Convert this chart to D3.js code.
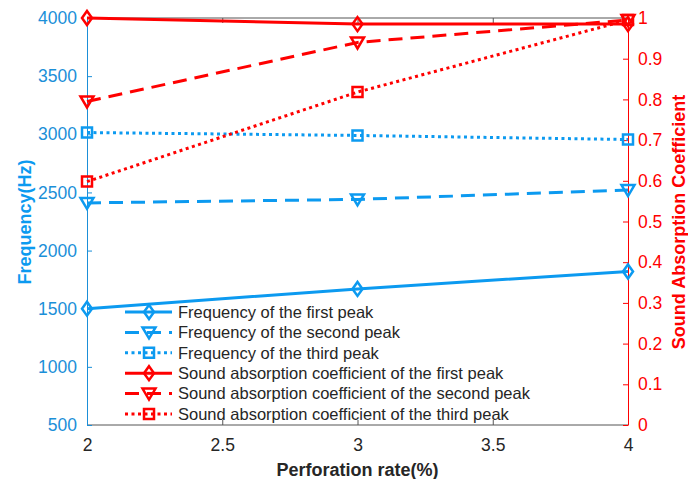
<!DOCTYPE html>
<html>
<head>
<meta charset="utf-8">
<script src="https://cdn.jsdelivr.net/npm/d3@7"></script>
<style>
  body { margin: 0; background: #fff; }
  text { font-family: Arial, "Liberation Sans", sans-serif; }
</style>
</head>
<body>
<script>
// values
var rates = [2, 3, 4];
var freqFirst = [1500, 1670, 1820];
var freqSecond = [2410, 2440, 2520];
var freqThird = [3015, 2990, 2955];
var absFirst = [1.0, 0.985, 0.985];
var absSecond = [0.795, 0.94, 0.995];
var absThird = [0.598, 0.818, 0.995];

var xTicks = [2, 2.5, 3, 3.5, 4];
var freqTicks = [500, 1000, 1500, 2000, 2500, 3000, 3500, 4000];
var absTicks = [0, 0.1, 0.2, 0.3, 0.4, 0.5, 0.6, 0.7, 0.8, 0.9, 1];

var legendNames = [
  "Frequency of the first peak",
  "Frequency of the second peak",
  "Frequency of the third peak",
  "Sound absorption coefficient of the first peak",
  "Sound absorption coefficient of the second peak",
  "Sound absorption coefficient of the third peak"
];

var w = 688, h = 479;
// plot box (note: "top" is reserved on window, so use pTop etc.)
var pLeft = 87, pRight = 628, pTop = 18, pBottom = 425;
var blue = "#0c9af0", blueAxis = "#1b8fd8", red = "#ff0000";

var svg = d3.select("body").append("svg").attr("width", w).attr("height", h);

var x = d3.scaleLinear().domain([2, 4]).range([pLeft, pRight]);
var yL = d3.scaleLinear().domain([500, 4000]).range([pBottom, pTop]);
var yR = d3.scaleLinear().domain([0, 1]).range([pBottom, pTop]);

var series = [
  { name: legendNames[0], values: freqFirst, y: yL, color: blue, dash: null, marker: "diamond" },
  { name: legendNames[1], values: freqSecond, y: yL, color: blue, dash: "14,8", marker: "triangle" },
  { name: legendNames[2], values: freqThird, y: yL, color: blue, dash: "3,3.5", marker: "square" },
  { name: legendNames[3], values: absFirst, y: yR, color: red, dash: null, marker: "diamond" },
  { name: legendNames[4], values: absSecond, y: yR, color: red, dash: "14,8", marker: "triangle" },
  { name: legendNames[5], values: absThird, y: yR, color: red, dash: "3,3.5", marker: "square" }
];

function markerPath(type) {
  if (type == "diamond") return "M0,-7L5,0L0,7L-5,0Z";
  if (type == "triangle") return "M-6.5,-5L6.5,-5L0,6Z";
  return "M-5,-5L5,-5L5,5L-5,5Z";
}

// box: top and bottom
svg.append("line").attr("x1", pLeft).attr("x2", pRight).attr("y1", pTop).attr("y2", pTop)
  .attr("stroke", "#555").attr("stroke-width", 1);
svg.append("line").attr("x1", pLeft).attr("x2", pRight).attr("y1", pBottom).attr("y2", pBottom)
  .attr("stroke", "#555").attr("stroke-width", 1);

// x axis ticks (inward, top and bottom)
var bottomAxis = svg.append("g").attr("transform", "translate(0," + pBottom + ")")
  .call(d3.axisBottom(x).tickValues(xTicks).tickSizeInner(-5).tickSizeOuter(0).tickPadding(14)
    .tickFormat(function(d) { return d; }));
bottomAxis.select(".domain").remove();
bottomAxis.selectAll("line").attr("stroke", "#555");
bottomAxis.selectAll("text").attr("fill", "#262626").style("font-size", "17.5px");

var topAxis = svg.append("g").attr("transform", "translate(0," + pTop + ")")
  .call(d3.axisTop(x).tickValues(xTicks).tickSizeInner(-5).tickSizeOuter(0).tickFormat(""));
topAxis.select(".domain").remove();
topAxis.selectAll("line").attr("stroke", "#555");

// left axis
var leftAxis = svg.append("g").attr("transform", "translate(" + pLeft + ",0)")
  .call(d3.axisLeft(yL).tickValues(freqTicks).tickSizeInner(-5).tickSizeOuter(0).tickPadding(10)
    .tickFormat(function(d) { return d; }));
leftAxis.select(".domain").attr("stroke", blueAxis);
leftAxis.selectAll("line").attr("stroke", blueAxis);
leftAxis.selectAll("text").attr("fill", blueAxis).style("font-size", "17.5px");

// right axis
var rightAxis = svg.append("g").attr("transform", "translate(" + pRight + ",0)")
  .call(d3.axisRight(yR).tickValues(absTicks).tickSizeInner(-5).tickSizeOuter(0).tickPadding(10)
    .tickFormat(function(d) { return String(+d.toFixed(1)); }));
rightAxis.select(".domain").attr("stroke", red);
rightAxis.selectAll("line").attr("stroke", red);
rightAxis.selectAll("text").attr("fill", red).style("font-size", "17.5px");

// lines
var plot = svg.append("g");
series.forEach(function(s) {
  var line = d3.line()
    .x(function(d, i) { return x(rates[i]); })
    .y(function(d) { return s.y(d); });
  plot.append("path")
    .datum(s.values)
    .attr("d", line)
    .attr("fill", "none")
    .attr("stroke", s.color)
    .attr("stroke-width", 3)
    .attr("stroke-dasharray", s.dash);
  plot.selectAll(null)
    .data(s.values)
    .enter().append("path")
    .attr("transform", function(d, i) { return "translate(" + x(rates[i]) + "," + s.y(d) + ")"; })
    .attr("d", markerPath(s.marker))
    .attr("fill", "none")
    .attr("stroke", s.color)
    .attr("stroke-width", 2.5)
    .attr("stroke-linejoin", "miter");
});

// legend
var legend = svg.append("g").attr("transform", "translate(125,312)");
var rows = legend.selectAll("g").data(series).enter().append("g")
  .attr("transform", function(d, i) { return "translate(0," + (i * 20.4) + ")"; });
rows.append("line")
  .attr("x1", 0).attr("x2", 47).attr("y1", 0).attr("y2", 0)
  .attr("stroke", function(d) { return d.color; })
  .attr("stroke-width", 3)
  .attr("stroke-dasharray", function(d) { return d.dash; });
rows.append("path")
  .attr("transform", "translate(24,0)")
  .attr("d", function(d) { return markerPath(d.marker); })
  .attr("fill", "none")
  .attr("stroke", function(d) { return d.color; })
  .attr("stroke-width", 2.5);
rows.append("text")
  .attr("x", 53).attr("y", 0).attr("dy", "0.35em")
  .attr("fill", "#262626")
  .style("font-size", "16.5px")
  .text(function(d) { return d.name; });

// axis titles
svg.append("text")
  .attr("x", (pLeft + pRight) / 2).attr("y", 470).attr("dy", "0.35em")
  .attr("text-anchor", "middle").attr("fill", "#262626")
  .style("font-size", "18px").style("font-weight", "bold")
  .text("Perforation rate(%)");

svg.append("text")
  .attr("transform", "translate(25,222) rotate(-90)").attr("dy", "0.35em")
  .attr("text-anchor", "middle").attr("fill", blue)
  .style("font-size", "18px").style("font-weight", "bold")
  .text("Frequency(Hz)");

svg.append("text")
  .attr("transform", "translate(679,222) rotate(-90)").attr("dy", "0.35em")
  .attr("text-anchor", "middle").attr("fill", red)
  .style("font-size", "18px").style("font-weight", "bold")
  .text("Sound Absorption Coefficient");
</script>
</body>
</html>
